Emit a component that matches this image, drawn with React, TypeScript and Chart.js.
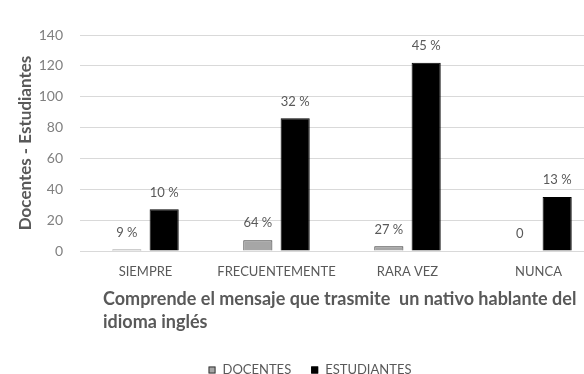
import React, { useEffect, useRef } from "react";
import { Chart, registerables } from "chart.js";

Chart.register(...registerables);

const categories = ["SIEMPRE", "FRECUENTEMENTE", "RARA VEZ", "NUNCA"];
const seriesNames = ["DOCENTES", "ESTUDIANTES"];
const docentes = [1, 7, 3, 0];
const estudiantes = [27, 86, 122, 35];
const docentesLabels = ["9 %", "64 %", "27 %", "0"];
const estudiantesLabels = ["10 %", "32 %", "45 %", "13 %"];
const yTitle = "Docentes - Estudiantes";
const xTitleLines = [
  "Comprende el mensaje que trasmite  un nativo hablante del",
  "idioma inglés",
];

const FONT = "Lato, 'Noto Sans', sans-serif";
const TEXT_GRAY = "#595959";
const DOC_FILL = "#a6a6a6";
const DOC_BORDER = "#3a3a3a";
const EST_FILL = "#000000";

const valueLabelsPlugin = {
  id: "valueLabels",
  afterDatasetsDraw(chart: any) {
    const ctx = chart.ctx;
    const sets = [docentesLabels, estudiantesLabels];
    ctx.save();
    ctx.font = `13px ${FONT}`;
    ctx.fillStyle = TEXT_GRAY;
    ctx.textAlign = "center";
    ctx.textBaseline = "middle";
    chart.data.datasets.forEach((_: any, di: number) => {
      const meta = chart.getDatasetMeta(di);
      meta.data.forEach((bar: any, i: number) => {
        ctx.fillText(sets[di][i], bar.x, bar.y - 17);
      });
    });
    ctx.restore();
  },
};

const titleLegendPlugin = {
  id: "titleLegend",
  afterDraw(chart: any) {
    const ctx = chart.ctx;
    const area = chart.chartArea;
    ctx.save();
    // x-axis title
    ctx.font = `bold 18px ${FONT}`;
    ctx.fillStyle = TEXT_GRAY;
    ctx.textAlign = "left";
    ctx.textBaseline = "middle";
    xTitleLines.forEach((line, i) => {
      ctx.fillText(line, area.left + 23, 299 + i * 23);
    });
    // legend
    ctx.font = `13px ${FONT}`;
    const box = 7;
    const gap = 7;
    const itemGap = 20;
    const widths = seriesNames.map((n) => ctx.measureText(n).width);
    const total = widths.reduce((a, w) => a + box + gap + w, 0) + itemGap * (seriesNames.length - 1);
    let x = chart.width / 2 - total / 2;
    const cy = 370;
    const fills = [DOC_FILL, EST_FILL];
    const borders = [DOC_BORDER, EST_FILL];
    seriesNames.forEach((n, i) => {
      ctx.fillStyle = fills[i];
      ctx.fillRect(x, cy - box / 2, box, box);
      ctx.strokeStyle = borders[i];
      ctx.lineWidth = 1;
      ctx.strokeRect(x + 0.5, cy - box / 2 + 0.5, box - 1, box - 1);
      ctx.fillStyle = TEXT_GRAY;
      ctx.textAlign = "left";
      ctx.fillText(n, x + box + gap, cy);
      x += box + gap + widths[i] + itemGap;
    });
    ctx.restore();
  },
};

export default function App() {
  const ref = useRef<HTMLCanvasElement | null>(null);

  useEffect(() => {
    if (!ref.current) return;
    const chart = new Chart(ref.current, {
      type: "bar",
      data: {
        labels: categories,
        datasets: [
          {
            label: seriesNames[0],
            data: docentes,
            backgroundColor: DOC_FILL,
            borderColor: DOC_BORDER,
            borderWidth: 1,
            categoryPercentage: 0.57,
            barPercentage: 0.78,
          },
          {
            label: seriesNames[1],
            data: estudiantes,
            backgroundColor: EST_FILL,
            borderColor: EST_FILL,
            borderWidth: 1,
            categoryPercentage: 0.57,
            barPercentage: 0.78,
          },
        ],
      },
      options: {
        responsive: false,
        animation: false,
        layout: { padding: { left: 15, right: 16, top: 35, bottom: 93 } },
        plugins: {
          legend: { display: false },
          tooltip: { enabled: false },
        },
        scales: {
          x: {
            grid: { display: false, drawTicks: false },
            border: { display: false },
            ticks: {
              color: TEXT_GRAY,
              font: { family: FONT, size: 13 },
              padding: 13,
              maxRotation: 0,
              autoSkip: false,
            },
            afterFit: (s: any) => {
              s.height = 30;
            },
          },
          y: {
            min: 0,
            max: 140,
            grid: { color: "#d9d9d9", drawTicks: false, lineWidth: 1 },
            border: { display: false },
            ticks: {
              stepSize: 20,
              color: "#808080",
              font: { family: FONT, size: 14 },
              padding: 17,
            },
            title: {
              display: true,
              text: yTitle,
              color: TEXT_GRAY,
              font: { family: FONT, size: 17, weight: "bold" },
              padding: { top: 0, bottom: 4 },
            },
            afterFit: (s: any) => {
              s.width = 65;
            },
          },
        },
      },
      plugins: [valueLabelsPlugin, titleLegendPlugin],
    });
    return () => chart.destroy();
  }, []);

  return (
    <div
      style={{
        position: "fixed",
        left: 0,
        top: 0,
        width: 584,
        height: 374,
        overflow: "hidden",
        background: "#fff",
      }}
    >
      <canvas ref={ref} width={620} height={374} style={{ display: "block", width: 620, height: 374 }} />
    </div>
  );
}
